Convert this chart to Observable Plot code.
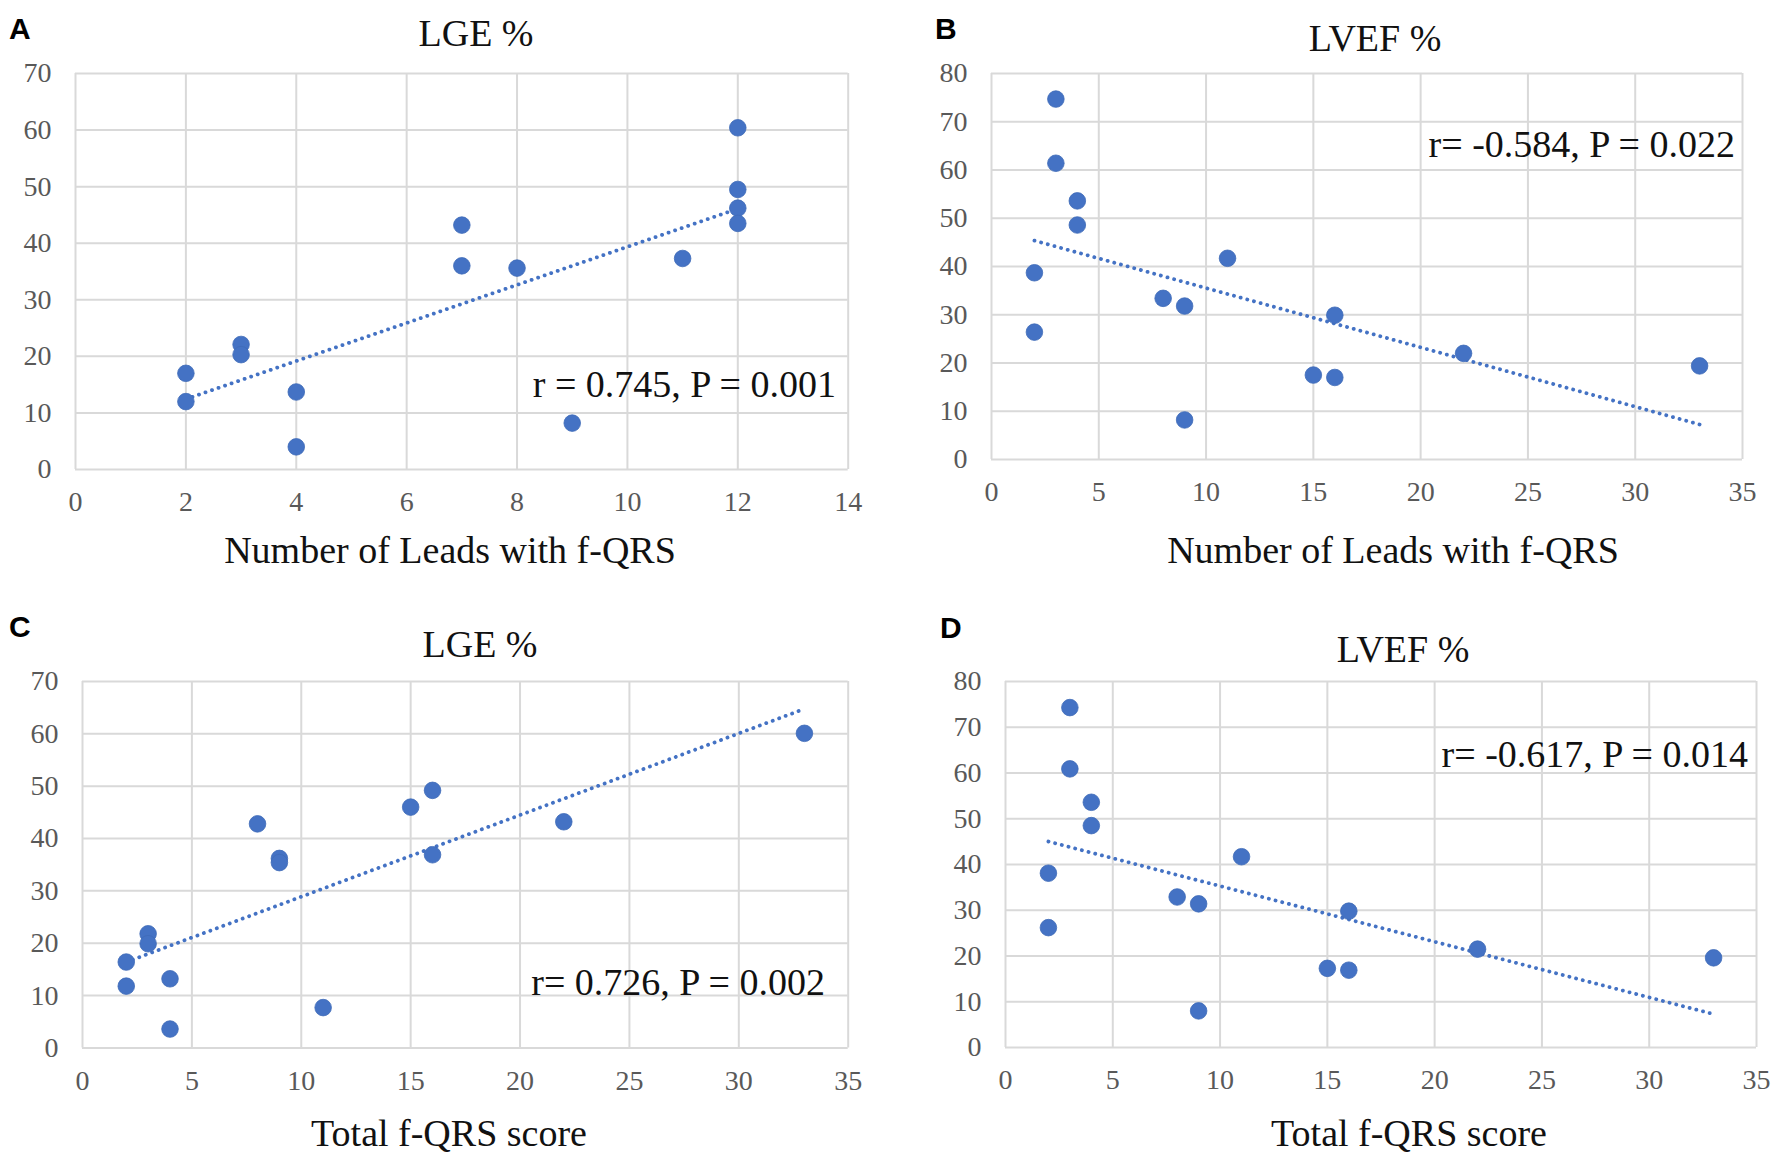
<!DOCTYPE html>
<html>
<head>
<meta charset="utf-8">
<script src="https://cdn.jsdelivr.net/npm/d3@7"></script>
<script src="https://cdn.jsdelivr.net/npm/@observablehq/plot@0.6"></script>
<style>
  html, body { margin: 0; padding: 0; background: #fff; }
  #fig { position: relative; width: 1772px; height: 1161px; background: #fff; overflow: hidden; }
  #fig svg.panel { position: absolute; }
  #overlay { position: absolute; left: 0; top: 0; pointer-events: none; }
</style>
</head>
<body>
<div id="fig"></div>
<script>
// ---------- Data ----------
// Panel A: Number of leads with f-QRS vs LGE %
const leadsA = [2, 2, 3, 3, 4, 4, 7, 7, 8, 9, 11, 12, 12, 12, 12];
const lgeA   = [17.0, 12.0, 22.1, 20.3, 13.7, 4.0, 43.2, 36.0, 35.6, 8.2, 37.3, 60.4, 49.5, 46.2, 43.5];
// Panel B: Number of leads with f-QRS vs LVEF %
const leadsB = [2, 2, 3, 3, 4, 4, 8, 9, 9, 11, 15, 16, 16, 22, 33];
const lvefB  = [38.7, 26.4, 74.7, 61.4, 53.6, 48.6, 33.4, 31.8, 8.2, 41.7, 17.5, 29.9, 17.0, 22.0, 19.4];
// Panel C: Total f-QRS score vs LGE %
const scoreC = [2, 2, 3, 3, 4, 4, 8, 9, 9, 11, 15, 16, 16, 22, 33];
const lgeC   = [16.4, 11.8, 21.8, 19.9, 13.2, 3.6, 42.8, 36.2, 35.4, 7.7, 46.0, 49.2, 36.9, 43.2, 60.1];
// Panel D: Total f-QRS score vs LVEF %
const scoreD = [2, 2, 3, 3, 4, 4, 8, 9, 9, 11, 15, 16, 16, 22, 33];
const lvefD  = [38.1, 26.2, 74.3, 60.9, 53.6, 48.5, 32.9, 31.4, 8.0, 41.7, 17.3, 29.8, 16.9, 21.5, 19.6];

// Tick values
const ticksX14 = [0, 2, 4, 6, 8, 10, 12, 14];
const ticksX35 = [0, 5, 10, 15, 20, 25, 30, 35];
const ticksY70 = [0, 10, 20, 30, 40, 50, 60, 70];
const ticksY80 = [0, 10, 20, 30, 40, 50, 60, 70, 80];

// Texts
const panelLetters = ["A", "B", "C", "D"];
const panelTitles  = ["LGE %", "LVEF %", "LGE %", "LVEF %"];
const xTitles      = ["Number of Leads with f-QRS", "Number of Leads with f-QRS", "Total f-QRS score", "Total f-QRS score"];
const statTexts    = ["r = 0.745, P = 0.001", "r= -0.584, P = 0.022", "r= 0.726, P = 0.002", "r= -0.617, P = 0.014"];

// ---------- Layout (pixel frame of each plot area) ----------
const frames = [
  {l: 75,    r: 847.7,  t: 72.7, b: 468.7},
  {l: 990.7, r: 1741.7, t: 73,   b: 459},
  {l: 82,    r: 847.7,  t: 681.3, b: 1047.7},
  {l: 1005.3, r: 1756.3, t: 681.3, b: 1047.3}
];
const textPos = [
  {letter: [9, 39],   title: [476, 45.7],  stat: [836, 397],   xt: [450, 563]},
  {letter: [935, 39], title: [1375, 51],   stat: [1735, 157],  xt: [1393, 563]},
  {letter: [9, 637],  title: [480, 657],   stat: [825, 995],   xt: [449, 1146]},
  {letter: [940, 638], title: [1403, 662], stat: [1748, 767],  xt: [1409, 1146]}
];

const BLUE = "#4472c4";
const GRID = "#d9d9d9";
const SERIF = "'Liberation Serif', 'Times New Roman', serif";

const fig = document.getElementById("fig");

function panel(xs, ys, xTicks, yTicks, f) {
  const data = xs.map((x, i) => ({x, y: ys[i]}));
  const ml = 80, mr = 40, mt = 20, mb = 60;
  const width = (f.r - f.l) + ml + mr;
  const height = (f.b - f.t) + mt + mb;
  const svg = Plot.plot({
    width, height,
    marginLeft: ml, marginRight: mr, marginTop: mt, marginBottom: mb,
    x: {domain: [xTicks[0], xTicks[xTicks.length - 1]], label: null},
    y: {domain: [yTicks[0], yTicks[yTicks.length - 1]], label: null},
    style: {fontFamily: SERIF, fontSize: "28px", color: "#595959", background: "transparent", overflow: "visible"},
    marks: [
      Plot.gridX(xTicks, {stroke: GRID, strokeOpacity: 1, strokeWidth: 2}),
      Plot.gridY(yTicks, {stroke: GRID, strokeOpacity: 1, strokeWidth: 2}),
      Plot.axisX(xTicks, {tickSize: 0, tickPadding: 22, fill: "#595959", label: null, fontSize: 28}),
      Plot.axisY(yTicks, {tickSize: 0, tickPadding: 24, fill: "#595959", label: null, fontSize: 28}),
      Plot.linearRegressionY(data, {x: "x", y: "y", ci: 0, stroke: BLUE, strokeWidth: 3.8,
        strokeDasharray: "0.1,6.8", strokeLinecap: "round"}),
      Plot.dot(data, {x: "x", y: "y", r: 8.3, fill: BLUE, stroke: "#3f6bb8", strokeWidth: 0.8})
    ]
  });
  svg.classList.add("panel");
  svg.style.left = (f.l - ml) + "px";
  svg.style.top = (f.t - mt) + "px";
  fig.appendChild(svg);
}

panel(leadsA, lgeA, ticksX14, ticksY70, frames[0]);
panel(leadsB, lvefB, ticksX35, ticksY80, frames[1]);
panel(scoreC, lgeC, ticksX35, ticksY70, frames[2]);
panel(scoreD, lvefD, ticksX35, ticksY80, frames[3]);

// ---------- Text overlay ----------
const ov = d3.select(fig).append("svg").attr("id", "overlay")
  .attr("width", 1772).attr("height", 1161);
panelLetters.forEach((L, i) => {
  const p = textPos[i];
  ov.append("text").attr("x", p.letter[0]).attr("y", p.letter[1])
    .attr("font-family", "'Liberation Sans', Arial, sans-serif").attr("font-weight", "bold")
    .attr("font-size", 30).attr("fill", "#000").text(L);
  ov.append("text").attr("x", p.title[0]).attr("y", p.title[1]).attr("text-anchor", "middle")
    .attr("font-family", SERIF).attr("font-size", 38).attr("fill", "#111").text(panelTitles[i]);
  ov.append("text").attr("x", p.stat[0]).attr("y", p.stat[1]).attr("text-anchor", "end")
    .attr("font-family", SERIF).attr("font-size", 38).attr("fill", "#111").text(statTexts[i]);
  ov.append("text").attr("x", p.xt[0]).attr("y", p.xt[1]).attr("text-anchor", "middle")
    .attr("font-family", SERIF).attr("font-size", 38).attr("fill", "#111").text(xTitles[i]);
});
</script>
</body>
</html>
